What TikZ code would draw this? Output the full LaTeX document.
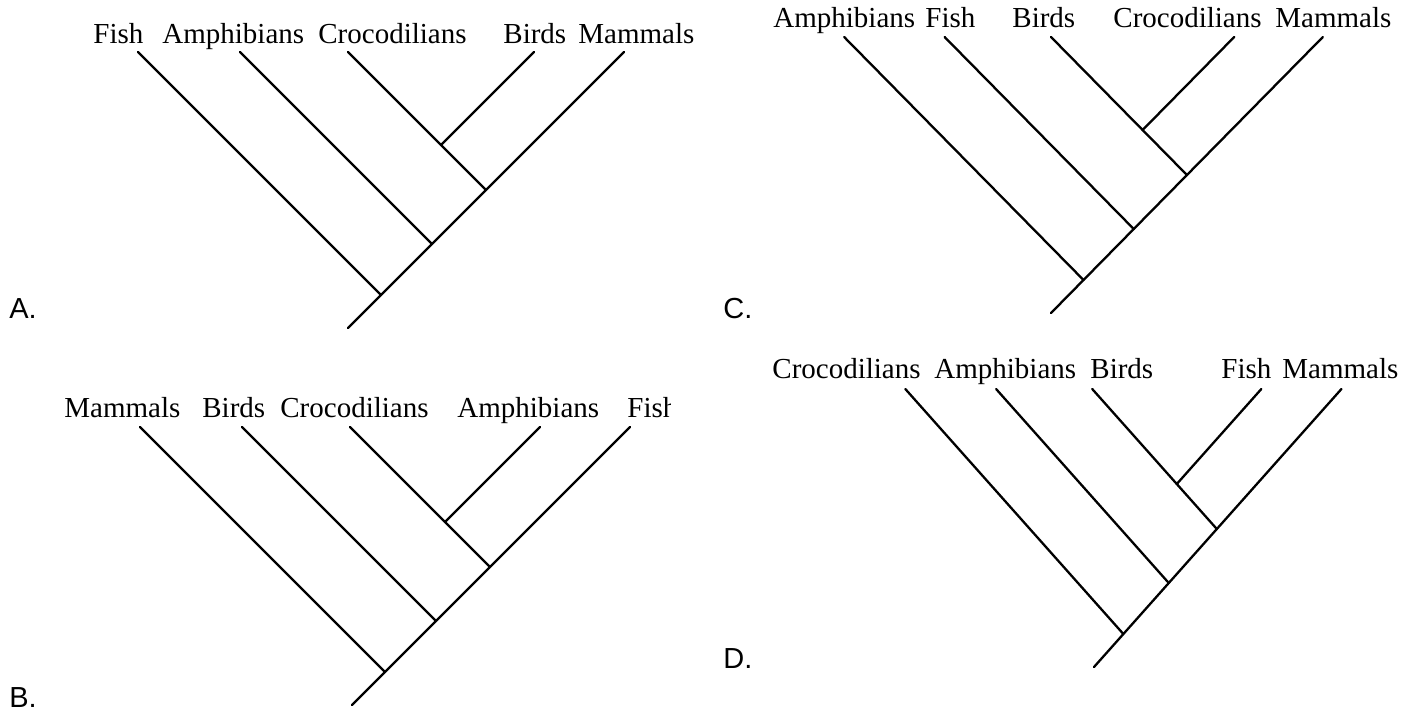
\documentclass[tikz,border=0pt]{standalone}
\usepackage{fontspec}
\setmainfont{Liberation Serif}
\newfontfamily\lettfont{Liberation Sans}
\newcommand\cladetree[5]{% prefix, bx, by, xscale, T
  \begin{scope}[shift={(#2,#3)}, xscale=#4]
    \coordinate (#1-b)  at (0,0);
    \coordinate (#1-n1) at (33,-33);
    \coordinate (#1-n2) at (84,-84);
    \coordinate (#1-n3) at (138,-138);
    \coordinate (#1-n4) at (93,-183);
    \coordinate (#1-t1) at ({66-#5},{-#5});
    \coordinate (#1-t2) at ({168-#5},{-#5});
    \coordinate (#1-t3) at ({276-#5},{-#5});
    \coordinate (#1-t4) at ({#5-90},{-#5});
    \coordinate (#1-t5) at ({#5},{-#5});
  \end{scope}
  \draw[branch] (#1-b) -- (#1-t5);
  \draw[branch] (#1-n1) -- (#1-t1);
  \draw[branch] (#1-n2) -- (#1-t2);
  \draw[branch] (#1-n3) -- (#1-t3);
  \draw[branch] (#1-n4) -- (#1-t4);
}
\begin{document}
\begin{tikzpicture}[x=0.5pt,y=-0.5pt,
  branch/.style={line width=1.15pt, line cap=round},
  taxon/.style={anchor=base west, inner sep=0pt, font=\fontsize{14.5}{17}\selectfont},
  letter/.style={anchor=base west, inner sep=0pt, font=\lettfont\fontsize{14.5}{17}\selectfont}]
\useasboundingbox (0,0) rectangle (1413,713);
\fill[white] (0,0) rectangle (1413,713);

% ---- A ----
\cladetree{A}{348}{328}{1}{276}
\node[taxon] (A-fish) at (93,43) {Fish};
\node[taxon] (A-amph) at (162,43) {Amphibians};
\node[taxon] (A-croc) at (318,43) {Crocodilians};
\node[taxon] (A-bird) at (503,43) {Birds};
\node[taxon] (A-mamm) at (578,43) {Mammals};
\node[letter] (A-lab) at (9,318) {A.};

% ---- C ----
\cladetree{C}{1051}{313}{0.985}{276}
\node[taxon] (C-amph) at (773,27) {Amphibians};
\node[taxon] (C-fish) at (925,27) {Fish};
\node[taxon] (C-bird) at (1012,27) {Birds};
\node[taxon] (C-croc) at (1113,27) {Crocodilians};
\node[taxon] (C-mamm) at (1275,27) {Mammals};
\node[letter] (C-lab) at (723,318) {C.};

% ---- B ----
\cladetree{B}{352}{705}{1}{278}
\node[taxon] (B-mamm) at (64,417) {Mammals};
\node[taxon] (B-bird) at (202,417) {Birds};
\node[taxon] (B-croc) at (280,417) {Crocodilians};
\node[taxon] (B-amph) at (457,417) {Amphibians};
\begin{scope}
  \clip (600,380) rectangle (670,440);
  \node[taxon] (B-fish) at (627,417) {Fish};
\end{scope}
\node[letter] (B-lab) at (9,707) {B.};

% ---- D ----
\cladetree{D}{1094}{667}{0.89}{278}
\node[taxon] (D-croc) at (772,378) {Crocodilians};
\node[taxon] (D-amph) at (934,378) {Amphibians};
\node[taxon] (D-bird) at (1090,378) {Birds};
\node[taxon] (D-fish) at (1221,378) {Fish};
\node[taxon] (D-mamm) at (1282,378) {Mammals};
\node[letter] (D-lab) at (723,668) {D.};
\end{tikzpicture}
\end{document}
